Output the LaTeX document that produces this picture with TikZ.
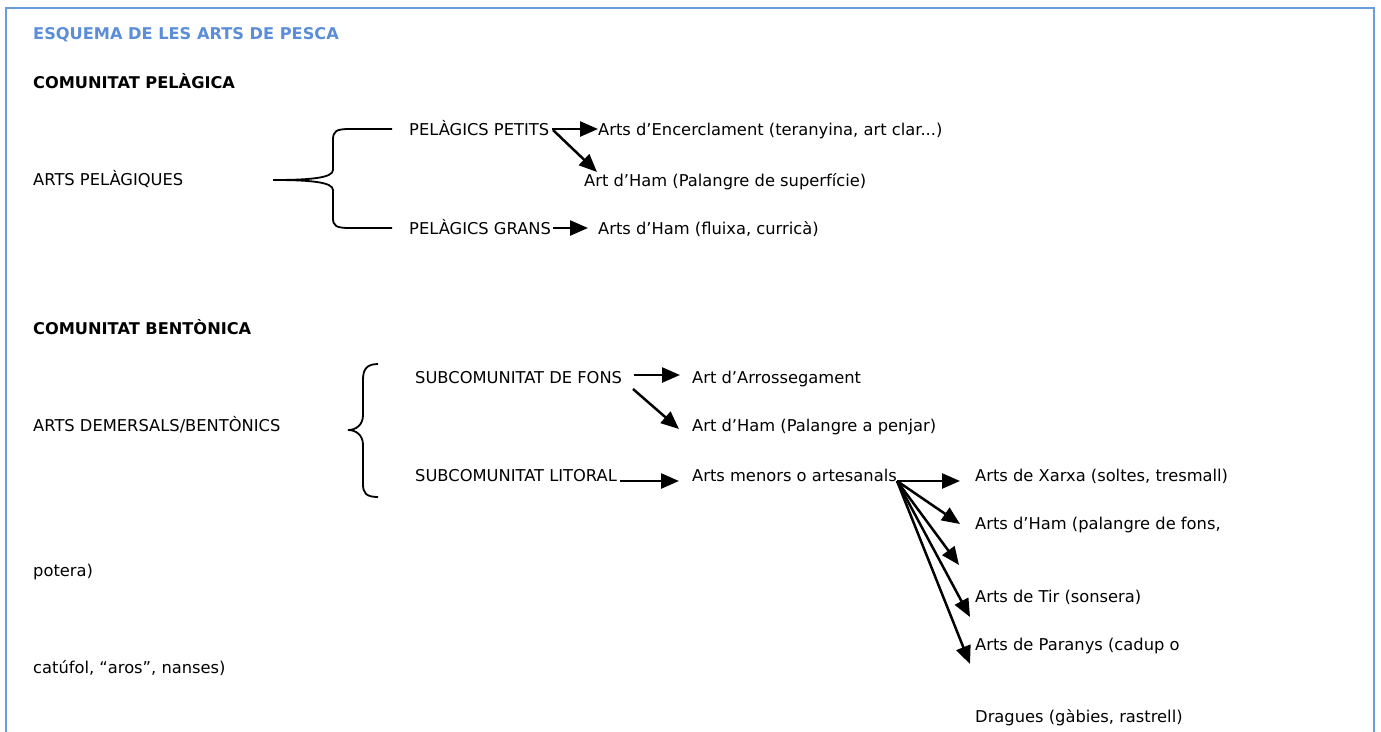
\documentclass[tikz,border=0pt]{standalone}
\usepackage{fontspec}
\setmainfont{DejaVu Sans}
\usetikzlibrary{arrows.meta,calc}
\definecolor{titleblue}{HTML}{5B8ED6}
\definecolor{framecol}{HTML}{6A9BDC}
\tikzset{
  txt/.style={anchor=base west,inner sep=0pt,font=\fontsize{16.3}{19}\selectfont},
  head/.style={txt,font=\fontsize{16.2}{19}\selectfont\bfseries},
  arr/.style={line width=2.5pt,-{Triangle[length=18pt,width=15pt]}},
  bracelin/.style={line width=1.8pt},
}
\begin{document}
\begin{tikzpicture}[x=1pt,y=-1pt]
\useasboundingbox (0,0) rectangle (1381,731);
\draw[framecol,line width=2pt] (6,735) -- (6,8) -- (1374,8) -- (1374,735);

\node[head,text=titleblue] (title) at (33,39) {ESQUEMA DE LES ARTS DE PESCA};
\node[head] (cpel) at (33,88) {COMUNITAT PELÀGICA};

\node[txt] (apel) at (33,185) {ARTS PELÀGIQUES};
\draw[bracelin] (273,180) .. controls (310,180) and (333,178) .. (333,170) -- (333,140)
  .. controls (333,131) and (336,129) .. (350,129) -- (392,129);
\draw[bracelin] (273,180) .. controls (310,180) and (333,182) .. (333,190) -- (333,218)
  .. controls (333,226) and (336,228) .. (350,228) -- (392,228);

\node[txt] (pp) at (409,135) {PELÀGICS PETITS};
\node[txt] (ae) at (598,135) {Arts d’Encerclament (teranyina, art clar...)};
\node[txt] (ah1) at (584,186) {Art d’Ham (Palangre de superfície)};
\node[txt] (pg) at (409,234) {PELÀGICS GRANS};
\node[txt] (ah2) at (598,234) {Arts d’Ham (fluixa, curricà)};

\coordinate (ppA) at (552,129);
\coordinate (ppB) at (553,130);
\coordinate (ah1T) at (597,172);
\coordinate (pgA) at (553,228);
\coordinate (pgT) at (588,228);
\draw[arr] (ppA) -- (ae.west |- ppA);
\draw[arr] (ppB) -- (ah1T);
\draw[arr] (pgA) -- (pgT);

\node[head] (cben) at (33,334) {COMUNITAT BENTÒNICA};
\node[txt] (adem) at (33,431) {ARTS DEMERSALS/BENTÒNICS};
\draw[bracelin] (378,364) .. controls (366,364) and (363,370) .. (363,380) -- (363,415)
  .. controls (363,425) and (356,430) .. (348,430)
  .. controls (356,430) and (363,435) .. (363,445) -- (363,484)
  .. controls (363,493) and (366,497) .. (378,497);

\node[txt] (sf) at (415,383) {SUBCOMUNITAT DE FONS};
\node[txt] (arr) at (692,383) {Art d’Arrossegament};
\node[txt] (ah3) at (692,431) {Art d’Ham (Palangre a penjar)};
\node[txt] (sl) at (415,481) {SUBCOMUNITAT LITORAL};
\node[txt] (am) at (692,481) {Arts menors o artesanals};

\coordinate (sfA) at (634,375);
\coordinate (sfT) at (680,375);
\coordinate (sfB) at (633,389);
\coordinate (ah3T) at (679,429);
\coordinate (slA) at (620,481);
\coordinate (slT) at (679,481);
\draw[arr] (sfA) -- (sfT);
\draw[arr] (sfB) -- (ah3T);
\draw[arr] (slA) -- (slT);

\node[txt] (xa) at (975,481) {Arts de Xarxa (soltes, tresmall)};
\node[txt] (ah4) at (975,529) {Arts d’Ham (palangre de fons,};
\node[txt] (pot) at (33,576) {potera)};
\node[txt] (tir) at (975,602) {Arts de Tir (sonsera)};
\node[txt] (par) at (975,650) {Arts de Paranys (cadup o};
\node[txt] (cat) at (33,673) {catúfol, “aros”, nanses)};
\node[txt] (dra) at (975,722) {Dragues (gàbies, rastrell)};

\coordinate (fan) at (897,481);
\coordinate (f1) at (960,481);
\coordinate (f2) at (960,524);
\coordinate (f3) at (959,565);
\coordinate (f4) at (970,617);
\coordinate (f5) at (970,664);
\draw[arr] (fan) -- (f1);
\draw[arr] (fan) -- (f2);
\draw[arr] (fan) -- (f3);
\draw[arr] (fan) -- (f4);
\draw[arr] (fan) -- (f5);
\end{tikzpicture}
\end{document}
